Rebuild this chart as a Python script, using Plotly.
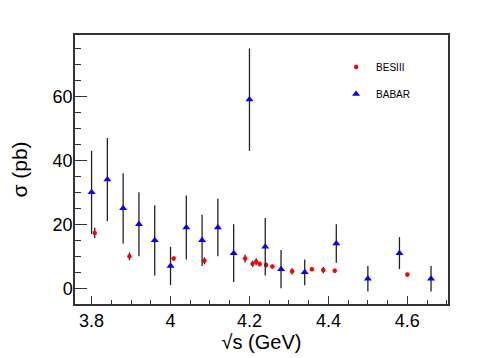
import plotly.graph_objects as go

# BESIII measurements
besiii_x = [3.808, 3.896, 4.008, 4.086, 4.189, 4.208, 4.217, 4.226, 4.242, 4.258,
            4.308, 4.358, 4.387, 4.416, 4.600]
besiii_y = [17.3, 10.0, 9.3, 8.6, 9.3, 7.7, 8.3, 7.6, 7.3, 6.8,
            5.3, 6.0, 5.7, 5.5, 4.3]
besiii_err = [1.6, 1.2, 0.6, 1.1, 1.2, 1.0, 1.1, 0.8, 0.8, 0.6,
              1.0, 0.6, 1.0, 0.6, 0.6]

# BABAR measurements
babar_x = [3.80, 3.84, 3.88, 3.92, 3.96, 4.00, 4.04, 4.08, 4.12, 4.16,
           4.20, 4.24, 4.28, 4.34, 4.42, 4.50, 4.58, 4.66]
babar_y = [30, 34, 25, 20, 15, 7, 19, 15, 19, 11,
           59, 13, 6, 5, 14, 3, 11, 3]
babar_err = [13, 13, 11, 10, 11, 6, 10, 8, 9, 9,
             16, 9, 6, 4, 6, 4, 5, 4]

font = "Liberation Sans, Arial, sans-serif"

fig = go.Figure()
fig.add_trace(go.Scatter(
    x=besiii_x, y=besiii_y, mode="markers", name="BESIII", legendgroup="a",
    marker=dict(symbol="circle", color="red", size=4.5),
    error_y=dict(type="data", array=besiii_err, color="#222", thickness=1.3, width=0)))
fig.add_trace(go.Scatter(
    x=babar_x, y=babar_y, mode="markers", name="BABAR", legendgroup="b",
    marker=dict(symbol="triangle-up", color="blue", size=7),
    error_y=dict(type="data", array=babar_err, color="#222", thickness=1.3, width=0)))

axis_common = dict(showline=True, linecolor="#333", linewidth=1.5, mirror=True,
                   ticks="inside", tickcolor="#333", showgrid=False, zeroline=False,
                   automargin=False,
                   tickfont=dict(family=font, size=18, color="black"))

# the page body adds 8px around the figure, so margins are reduced by that
fig.update_layout(
    width=498, height=358,
    margin=dict(l=67, r=58, t=27, b=62),
    plot_bgcolor="white", paper_bgcolor="white",
    font=dict(family=font, color="black"),
    xaxis=dict(range=[3.758, 4.703], tickvals=[3.8, 4.0, 4.2, 4.4, 4.6],
               ticktext=["3.8", "4", "4.2", "4.4", "4.6"], ticklen=8,
               minor=dict(dtick=0.05, tick0=3.8, ticklen=4, ticks="inside", tickcolor="#333"),
               title=dict(text="√s (GeV)", font=dict(size=20), standoff=0),
               **axis_common),
    yaxis=dict(range=[-4.9, 79.2], tickvals=[0, 20, 40, 60], ticklen=12,
               minor=dict(dtick=5, tick0=0, ticklen=6, ticks="inside", tickcolor="#333"),
               title=dict(text="σ (pb)", font=dict(size=21), standoff=22),
               ticklabelstandoff=-3,
               **axis_common),
    showlegend=True,
    legend=dict(x=0.70, y=0.935, xanchor="left", yanchor="top", bgcolor="rgba(0,0,0,0)",
                font=dict(family=font, size=10), itemwidth=30, tracegroupgap=8),
)

fig.write_html("out.html")
